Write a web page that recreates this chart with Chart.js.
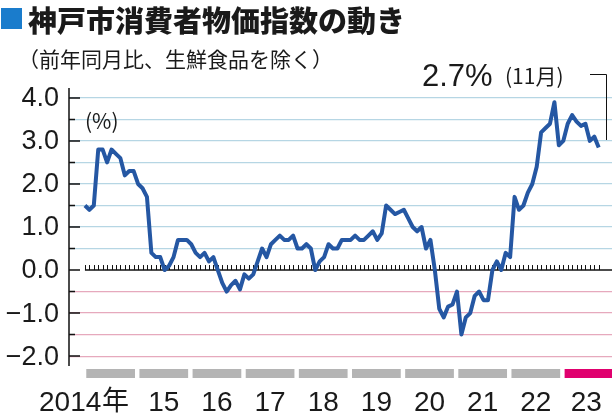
<!DOCTYPE html>
<html>
<head>
<meta charset="utf-8">
<script src="https://cdn.jsdelivr.net/npm/chart.js@4"></script>
<style>
  body { margin: 0; background: #fff; }
  #wrap { width: 612px; height: 414px; position: relative; }
</style>
</head>
<body>
<div id="wrap"><canvas id="cpi" width="612" height="414"></canvas></div>
<script>
// monthly values, Jan 2014 - Nov 2023 (%)
const values2014to2017 = [
  1.5, 1.4, 1.5, 2.8, 2.8, 2.5, 2.8, 2.7, 2.6, 2.2, 2.3, 2.3,
  2.0, 1.9, 1.7, 0.4, 0.3, 0.3, 0.0, 0.1, 0.3, 0.7, 0.7, 0.7,
  0.6, 0.4, 0.3, 0.4, 0.2, 0.3, 0.0, -0.3, -0.5, -0.35, -0.25, -0.45,
  -0.1, -0.2, -0.1, 0.2, 0.5, 0.3, 0.6, 0.7, 0.8, 0.7, 0.7, 0.8
];
const values2018to2023 = [
  0.5, 0.5, 0.6, 0.5, 0.0, 0.2, 0.3, 0.6, 0.5, 0.5, 0.7, 0.7,
  0.7, 0.8, 0.7, 0.7, 0.8, 0.9, 0.7, 0.85, 1.5, 1.4, 1.3, 1.35,
  1.4, 1.2, 1.0, 0.9, 1.0, 0.5, 0.7, 0.0, -0.9, -1.1, -0.85, -0.8,
  -0.5, -1.5, -1.1, -1.0, -0.6, -0.5, -0.7, -0.7, 0.0, 0.2, 0.0, 0.4,
  0.3, 1.7, 1.4, 1.5, 1.8, 2.0, 2.4, 3.2, 3.3, 3.4, 3.9, 2.9,
  3.0, 3.4, 3.6, 3.45, 3.35, 3.4, 3.0, 3.1, 2.85
];
const values = values2014to2017.concat(values2018to2023);
const yearLabels = ['2014年', '15', '16', '17', '18', '19', '20', '21', '22', '23'];
const yTickValues = [-2, -1.5, -1, -0.5, 0, 0.5, 1, 1.5, 2, 2.5, 3, 3.5, 4];

const points = values.map((v, i) => ({ x: i, y: v }));

const extras = {
  id: 'extras',
  beforeDatasetsDraw(chart) {
    const ctx = chart.ctx, xs = chart.scales.x, ys = chart.scales.y;
    const area = chart.chartArea;
    ctx.save();
    // zero line with monthly ticks
    const y0 = ys.getPixelForValue(0);
    ctx.strokeStyle = '#111';
    ctx.lineWidth = 1.5;
    ctx.beginPath();
    ctx.moveTo(xs.getPixelForValue(0), y0);
    ctx.lineTo(area.right, y0);
    ctx.stroke();
    ctx.lineWidth = 1;
    ctx.beginPath();
    for (let i = 0; i < values.length; i++) {
      const px = Math.round(xs.getPixelForValue(i)) + 0.5;
      ctx.moveTo(px, y0);
      ctx.lineTo(px, y0 - 5);
    }
    ctx.stroke();
    ctx.restore();
  },
  afterDraw(chart) {
    const ctx = chart.ctx, xs = chart.scales.x, ys = chart.scales.y;
    const area = chart.chartArea;
    ctx.save();
    // y axis line and ticks
    ctx.strokeStyle = '#111';
    ctx.lineWidth = 1.5;
    ctx.beginPath();
    ctx.moveTo(area.left, area.top);
    ctx.lineTo(area.left, area.bottom);
    yTickValues.forEach(v => {
      const py = ys.getPixelForValue(v);
      ctx.moveTo(area.left, py);
      ctx.lineTo(area.left + (Number.isInteger(v) ? 11 : 6), py);
    });
    ctx.stroke();
    // y labels
    ctx.fillStyle = '#1a1a1a';
    ctx.font = '27px "Liberation Sans", Arial, sans-serif';
    ctx.textAlign = 'right';
    ctx.textBaseline = 'middle';
    yTickValues.filter(v => Number.isInteger(v)).forEach(v => {
      const s = (v < 0 ? '−' : '') + Math.abs(v).toFixed(1);
      ctx.fillText(s, 59, ys.getPixelForValue(v) + 1);
    });
    // year bars and labels
    yearLabels.forEach((lab, k) => {
      const x1 = xs.getPixelForValue(12 * k + 0.3);
      const x2 = k === yearLabels.length - 1 ? 612 : xs.getPixelForValue(12 * k + 11.3);
      ctx.fillStyle = k === yearLabels.length - 1 ? '#e0006e' : '#b4b4b4';
      ctx.fillRect(x1, 369, x2 - x1, 9);
      ctx.fillStyle = '#1a1a1a';
      ctx.textAlign = 'center';
      ctx.textBaseline = 'alphabetic';
      if (k === 0) {
        ctx.font = '28px "Liberation Sans", Arial, sans-serif';
        ctx.textAlign = 'left';
        ctx.fillText('2014', 39, 411);
        ctx.font = '27px "Noto Sans CJK JP", sans-serif';
        ctx.fillText('年', 102, 410);
      } else {
        ctx.font = '28px "Liberation Sans", Arial, sans-serif';
        ctx.fillText(lab, (x1 + x2) / 2 + (k === yearLabels.length - 1 ? -2 : 0), 411);
      }
    });
    // titles
    ctx.fillStyle = '#1a7ccc';
    ctx.fillRect(1, 8, 21, 21);
    ctx.fillStyle = '#1a1a1a';
    ctx.textAlign = 'left';
    ctx.font = '900 29px "Noto Sans CJK JP", sans-serif';
    ctx.fillText('神戸市消費者物価指数の動き', 28, 32);
    ctx.font = '21px "Noto Sans CJK JP", sans-serif';
    ctx.fillText('（前年同月比、生鮮食品を除く）', 18, 67);
    ctx.fillText('(%)', 85, 129);
    ctx.font = '31px "Liberation Sans", Arial, sans-serif';
    ctx.fillText('2.7%', 422, 86);
    ctx.font = '21px "Noto Sans CJK JP", sans-serif';
    ctx.fillText('(11月)', 505, 84);
    // leader line
    ctx.strokeStyle = '#111';
    ctx.lineWidth = 1;
    ctx.beginPath();
    ctx.moveTo(590, 74.5);
    ctx.lineTo(606.5, 74.5);
    ctx.lineTo(606.5, 140);
    ctx.stroke();
    ctx.restore();
  }
};

new Chart(document.getElementById('cpi'), {
  type: 'line',
  data: {
    datasets: [{
      data: points,
      borderColor: '#2557a3',
      borderWidth: 4,
      pointRadius: 0,
      tension: 0,
      borderJoinStyle: 'round'
    }]
  },
  options: {
    responsive: false,
    animation: false,
    events: [],
    layout: { padding: { left: 69, right: 0, top: 88, bottom: 48 } },
    plugins: { legend: { display: false }, tooltip: { enabled: false } },
    scales: {
      x: {
        type: 'linear', min: -3.6, max: 119,
        display: false
      },
      y: {
        min: -2.23, max: 4.23,
        afterBuildTicks(axis) { axis.ticks = yTickValues.map(v => ({ value: v })); },
        ticks: { display: false },
        border: { display: false },
        grid: {
          drawTicks: false,
          lineWidth: 1.2,
          color: c => c.tick.value < 0 ? '#e6a9bd' : (c.tick.value === 0 ? 'rgba(0,0,0,0)' : '#b6d6e4')
        }
      }
    }
  },
  plugins: [extras]
});
</script>
</body>
</html>
